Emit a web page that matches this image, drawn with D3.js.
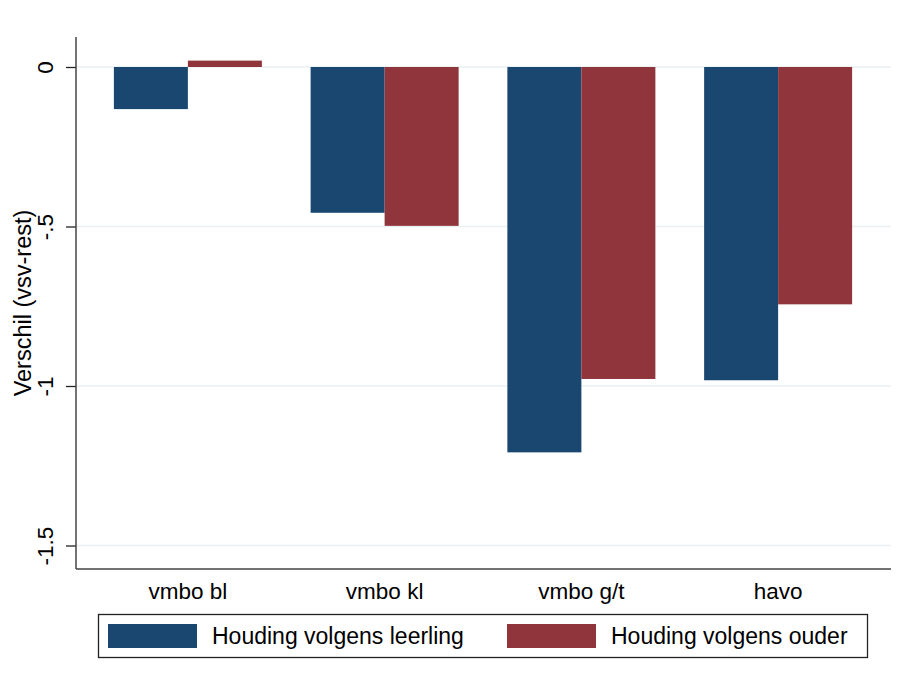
<!DOCTYPE html>
<html>
<head>
<meta charset="utf-8">
<script src="https://cdn.jsdelivr.net/npm/d3@7"></script>
<style>
  body { margin: 0; background: #fff; }
  text { font-family: "Liberation Sans", Arial, sans-serif; fill: #000; }
</style>
</head>
<body>
<script>
var width = 901;
var height = 684;

var categories = ['vmbo bl', 'vmbo kl', 'vmbo g/t', 'havo'];
var seriesNames = ['Houding volgens leerling', 'Houding volgens ouder'];
var leerling = [-0.132, -0.457, -1.208, -0.982];
var ouder = [0.02, -0.498, -0.978, -0.744];
var yTicks = [0, -0.5, -1, -1.5];
var yTickLabels = ['0', '-.5', '-1', '-1.5'];
var colors = ['#1a476f', '#90353b'];

var plot = { left: 76, right: 891, top: 37, bottom: 569 };

var svg = d3.select('body').append('svg')
  .attr('width', width)
  .attr('height', height);

var y = d3.scaleLinear()
  .domain([-1.5, 0])
  .range([545.5, 67]);

var x = d3.scaleBand()
  .domain(categories)
  .range([89.5, 876.5]);

// two bars of 74px centred in each category band
var barW = 74;
var inner = d3.scaleBand()
  .domain([0, 1])
  .range([x.bandwidth() / 2 - barW, x.bandwidth() / 2 + barW]);

// gridlines
svg.append('g')
  .selectAll('line')
  .data(yTicks)
  .enter().append('line')
  .attr('x1', plot.left)
  .attr('x2', plot.right)
  .attr('y1', function(d) { return y(d); })
  .attr('y2', function(d) { return y(d); })
  .attr('stroke', '#e8f0f2')
  .attr('stroke-width', 1.5);

// bars
var data = [];
categories.forEach(function(c, i) {
  data.push({ cat: c, s: 0, v: leerling[i] });
  data.push({ cat: c, s: 1, v: ouder[i] });
});

svg.append('g')
  .selectAll('rect')
  .data(data)
  .enter().append('rect')
  .attr('x', function(d) { return x(d.cat) + inner(d.s); })
  .attr('width', inner.bandwidth())
  .attr('y', function(d) { return Math.min(y(d.v), y(0)); })
  .attr('height', function(d) { return Math.abs(y(d.v) - y(0)); })
  .attr('fill', function(d) { return colors[d.s]; });

// axes
var yAxis = d3.axisLeft(y)
  .tickValues(yTicks)
  .tickFormat(function(d, i) { return yTickLabels[i]; })
  .tickSize(10)
  .tickSizeOuter(0);

var yg = svg.append('g')
  .attr('transform', 'translate(' + plot.left + ',0)')
  .call(yAxis);
yg.select('.domain').remove();
yg.selectAll('.tick line').attr('stroke', '#222').attr('stroke-width', 1.3);
yg.selectAll('.tick text')
  .attr('x', null).attr('dy', null)
  .attr('transform', 'translate(-31,0) rotate(-90)')
  .attr('text-anchor', 'middle')
  .attr('dy', '0.35em')
  .style('font-size', '22.5px')
  .style('font-family', '"Liberation Sans", Arial, sans-serif');

svg.append('line')
  .attr('x1', plot.left).attr('x2', plot.left)
  .attr('y1', plot.top).attr('y2', plot.bottom)
  .attr('stroke', '#444').attr('stroke-width', 1.5);
svg.append('line')
  .attr('x1', plot.left).attr('x2', plot.right)
  .attr('y1', plot.bottom).attr('y2', plot.bottom)
  .attr('stroke', '#444').attr('stroke-width', 1.5);

var xAxis = d3.axisBottom(x).tickSize(0).tickSizeOuter(0);
var xg = svg.append('g')
  .attr('transform', 'translate(0,' + plot.bottom + ')')
  .call(xAxis);
xg.select('.domain').remove();
xg.selectAll('.tick text')
  .attr('y', 30)
  .attr('dy', null)
  .style('font-size', '22.5px')
  .style('font-family', '"Liberation Sans", Arial, sans-serif');

// y title
svg.append('text')
  .attr('transform', 'translate(31,' + 303 + ') rotate(-90)')
  .attr('text-anchor', 'middle')
  .style('font-size', '23.5px')
  .text('Verschil (vsv-rest)');

// legend
var legend = svg.append('g');
legend.append('rect')
  .attr('x', 98.5).attr('y', 614.5)
  .attr('width', 769).attr('height', 43)
  .attr('fill', '#fff')
  .attr('stroke', '#222').attr('stroke-width', 1.3);

var legX = [108, 507];
seriesNames.forEach(function(n, i) {
  legend.append('rect')
    .attr('x', legX[i]).attr('y', 624)
    .attr('width', 89).attr('height', 24)
    .attr('fill', colors[i]);
  legend.append('text')
    .attr('x', legX[i] + 104).attr('y', 644)
    .style('font-size', '23px')
    .text(n);
});
</script>
</body>
</html>
